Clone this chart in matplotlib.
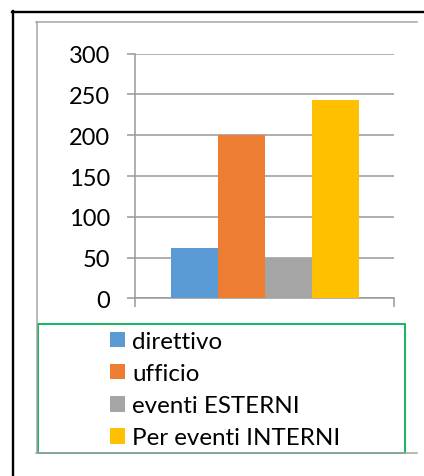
import matplotlib
matplotlib.use("Agg")
import matplotlib.pyplot as plt
from matplotlib.lines import Line2D
from matplotlib.patches import Rectangle

series = ["direttivo", "ufficio", "eventi ESTERNI", "Per eventi INTERNI"]
values = [62, 200, 50, 243]
colors = ["#5B9BD5", "#ED7D31", "#A5A5A5", "#FFC000"]
yticks = [0, 50, 100, 150, 200, 250, 300]

W, H = 424, 477
plt.rcParams['font.family'] = ['Lato', 'DejaVu Sans']
fig = plt.figure(figsize=(W / 100, H / 100), dpi=100)

def fx(px):
    return px / W

def fy(py):
    return 1 - py / H

# outer black border (top and left) and inner gray frame
fig.add_artist(Line2D([fx(12.5), fx(12.5)], [fy(12), fy(477)], color="black", lw=1.7,
                      transform=fig.transFigure))
fig.add_artist(Line2D([fx(12), fx(424)], [fy(12.5), fy(12.5)], color="black", lw=1.7,
                      transform=fig.transFigure))
gray = "#a6a6a6"
fig.add_artist(Line2D([fx(36.5), fx(36.5)], [fy(22.5), fy(454)], color=gray, lw=1.1,
                      transform=fig.transFigure))
fig.add_artist(Line2D([fx(36), fx(417)], [fy(22.5), fy(22.5)], color=gray, lw=1.1,
                      transform=fig.transFigure))
fig.add_artist(Line2D([fx(36), fx(417)], [fy(454), fy(454)], color=gray, lw=1.1,
                      transform=fig.transFigure))

# plot area
left, right, top, bottom = 135, 394, 54.7, 299.3
ax = fig.add_axes([fx(left), fy(bottom), (right - left) / W, (bottom - top) / H])
n = len(values)
offsets = [i - (n - 1) / 2 for i in range(n)]
half = (right - left) / 2 / 47.0
bars = []
for off, v, c, s in zip(offsets, values, colors, series):
    b = ax.bar(off, v, width=1.0, color=c, label=s, zorder=3)
    bars.append(b)
ax.set_xlim(-half, half)
ax.set_ylim(0, 300)
ax.set_yticks(yticks)
ax.set_yticklabels([str(t) for t in yticks], fontsize=17)
ax.yaxis.grid(True, color="#999999", lw=1.1, zorder=0)
ax.set_axisbelow(True)
for side in ["top", "right"]:
    ax.spines[side].set_visible(False)
ax.spines["left"].set_color("#999999")
ax.spines["bottom"].set_color("#999999")
ax.spines["left"].set_linewidth(1.1)
ax.spines["bottom"].set_linewidth(1.1)
ax.tick_params(axis="y", length=5.8, width=1.1, color="#999999", pad=12)
ax.set_xticks([-half, half])
ax.set_xticklabels(["", ""])
ax.tick_params(axis="x", length=6.5, width=1.1, color="#999999")

# legend box
fig.add_artist(Rectangle((fx(38), fy(453.5)), (405 - 38) / W, (453.5 - 325) / H,
                         transform=fig.transFigure, fill=False, edgecolor="#00B050", lw=1.3))
leg = fig.legend(handles=[b[0] for b in bars], labels=series, loc="upper left",
                 bbox_to_anchor=(fx(110), fy(332)), frameon=False, fontsize=17.4,
                 handlelength=0.62, handleheight=0.62, handletextpad=0.29,
                 labelspacing=0.46, borderaxespad=0, borderpad=0)

fig.savefig("out.png", dpi=100)
